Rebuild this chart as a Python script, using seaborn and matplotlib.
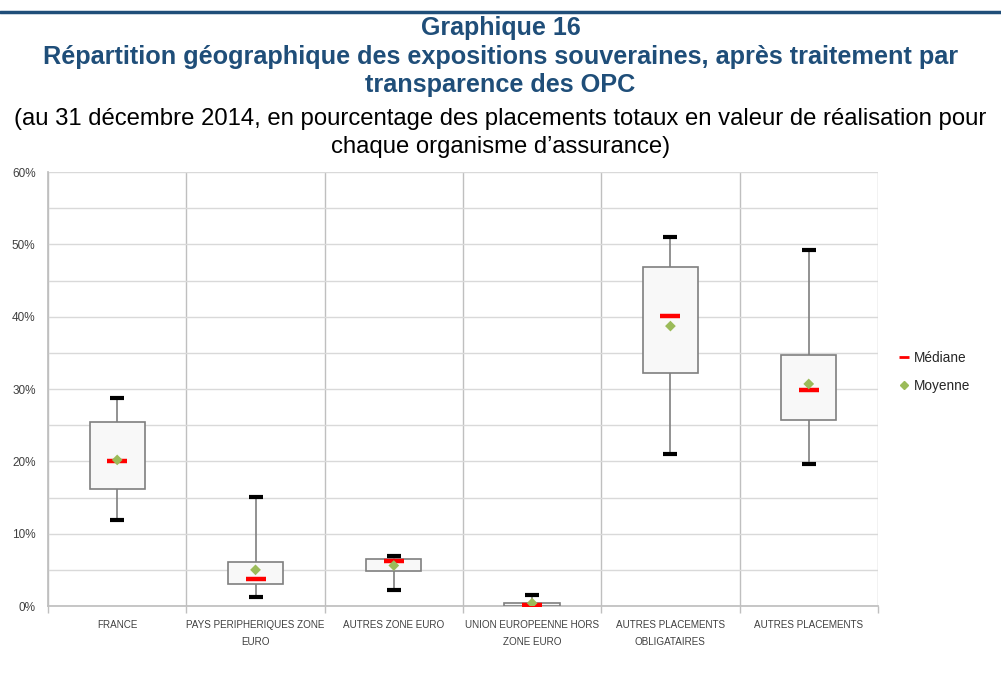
"""
Graphique 16 - répartition géographique des expositions souveraines (boîtes à moustaches).
Sortie : out.png
"""

import numpy as np
import pandas as pd
import matplotlib
matplotlib.use("Agg")
import matplotlib.pyplot as plt
from matplotlib.lines import Line2D
from matplotlib.ticker import FuncFormatter, MultipleLocator
import seaborn as sns

# ==========================================
# Données (en %)
# ==========================================
categories = ["FRANCE", "PAYS PERIPHERIQUES ZONE\nEURO", "AUTRES ZONE EURO",
              "UNION EUROPEENNE HORS\nZONE EURO", "AUTRES PLACEMENTS\nOBLIGATAIRES",
              "AUTRES PLACEMENTS"]
p_min = [11.9, 1.25, 2.2, 0.0, 21.0, 19.6]
p_q1 = [16.2, 3.0, 4.85, 0.05, 32.2, 25.7]
p_median = [20.0, 3.7, 6.2, 0.2, 40.1, 29.9]
p_q3 = [25.4, 6.1, 6.5, 0.35, 46.8, 34.7]
p_max = [28.8, 15.1, 6.9, 1.5, 51.0, 49.2]
p_mean = [20.2, 5.0, 5.6, 0.4, 38.7, 30.7]

BLUE = "#1F4E79"
GRID = "#D9D9D9"
SEP = "#BFBFBF"

# long format : 5 points par catégorie -> quartiles exacts, moustaches = min/max
rows = []
for i, cat in enumerate(categories):
    for v in (p_min[i], p_q1[i], p_median[i], p_q3[i], p_max[i]):
        rows.append({"cat": cat, "val": v})
df = pd.DataFrame(rows)
stats = pd.DataFrame({"cat": categories, "median": p_median, "mean": p_mean,
                      "lo": p_min, "hi": p_max})

# ==========================================
# Figure
# ==========================================
sns.set_theme(style="white")
plt.rcParams["font.family"] = ["Liberation Sans", "DejaVu Sans"]

fig = plt.figure(figsize=(10.01, 6.82), dpi=100)
ax = fig.add_axes([0.048, 0.1114, 0.829, 0.6364])

sns.boxplot(data=df, x="cat", y="val", order=categories, whis=(0, 100),
            width=0.4, color="#F8F8F8", saturation=1, linecolor="#7F7F7F",
            linewidth=1.2, showcaps=False, medianprops={"visible": False},
            ax=ax, zorder=3)

# moustaches : traits noirs épais
sns.scatterplot(data=stats, x="cat", y="hi", marker="_", s=110, color="black",
                linewidth=3, ax=ax, zorder=4, legend=False)
sns.scatterplot(data=stats, x="cat", y="lo", marker="_", s=110, color="black",
                linewidth=3, ax=ax, zorder=4, legend=False)
# médiane + moyenne
sns.scatterplot(data=stats, x="cat", y="median", marker="_", s=210, color="#FF0000",
                linewidth=3.2, ax=ax, zorder=5, legend=False)
sns.scatterplot(data=stats, x="cat", y="mean", marker="D", s=30, color="#9BBB59",
                edgecolor="none", ax=ax, zorder=6, legend=False)

ax.set_xlim(-0.5, len(categories) - 0.5)
ax.set_ylim(0, 60)
ax.yaxis.set_major_locator(MultipleLocator(10))
ax.yaxis.set_minor_locator(MultipleLocator(5))
ax.yaxis.set_major_formatter(FuncFormatter(lambda v, _: f"{v:.0f}%"))
ax.set_xticks(np.arange(-0.5, len(categories), 1), minor=True)
ax.grid(True, axis="y", which="both", color=GRID, linewidth=1, zorder=0)
ax.grid(True, axis="x", which="minor", color=SEP, linewidth=1, zorder=0)
ax.grid(False, axis="x", which="major")
ax.set_axisbelow(True)
ax.tick_params(axis="x", which="major", length=0, labelsize=7.1, colors="#404040", pad=10)
ax.tick_params(axis="x", which="minor", length=5, color=SEP, direction="out", bottom=True)
ax.tick_params(axis="y", which="both", length=0, labelsize=8.5, colors="#404040", pad=9)
ax.set_xlabel("")
ax.set_ylabel("")
for side in ("top", "right"):
    ax.spines[side].set_visible(False)
ax.spines["left"].set_color(SEP)
ax.spines["bottom"].set_color(SEP)
for t in ax.get_xticklabels():
    t.set_linespacing(1.9)

# légende
handles = [Line2D([], [], marker="_", color="#FF0000", linestyle="none",
                  markersize=7, markeredgewidth=2, label="Médiane"),
           Line2D([], [], marker="D", color="#9BBB59", linestyle="none",
                  markersize=4, label="Moyenne")]
fig.legend(handles=handles, loc="upper left", bbox_to_anchor=(0.886, 0.503),
           frameon=False, fontsize=9.8, handlelength=0.7, handletextpad=0.35,
           labelspacing=1.0, labelcolor="#262626")

# titres
fig.add_artist(Line2D([0, 1], [1 - 12 / 682, 1 - 12 / 682], color=BLUE, linewidth=2.5))
fig.text(0.5, 1 - 35 / 682, "Graphique 16", ha="center", va="baseline",
         fontsize=18, fontweight="bold", color=BLUE)
fig.text(0.5, 1 - 64 / 682,
         "Répartition géographique des expositions souveraines, après traitement par",
         ha="center", va="baseline", fontsize=18.2, fontweight="bold", color=BLUE)
fig.text(0.5, 1 - 92 / 682, "transparence des OPC", ha="center", va="baseline",
         fontsize=18.2, fontweight="bold", color=BLUE)
fig.text(0.5, 1 - 125 / 682,
         "(au 31 décembre 2014, en pourcentage des placements totaux en valeur de réalisation pour",
         ha="center", va="baseline", fontsize=17.2, color="black")
fig.text(0.5, 1 - 153 / 682, "chaque organisme d’assurance)", ha="center", va="baseline",
         fontsize=17.2, color="black")

fig.savefig("out.png", dpi=100)
plt.close(fig)
print("[OK] out.png")
